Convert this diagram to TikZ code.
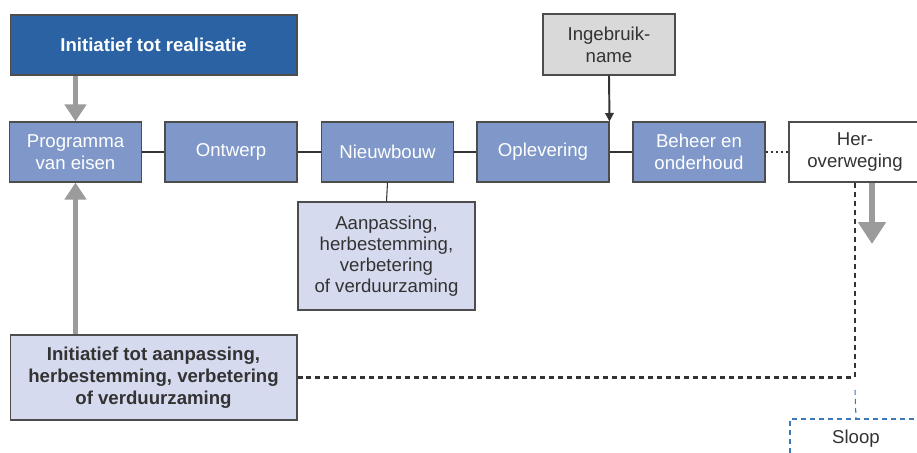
\documentclass[tikz,border=0pt]{standalone}
\usepackage{fontspec}
\setmainfont{Liberation Sans}
\usetikzlibrary{arrows.meta}
\definecolor{darkblue}{HTML}{2A62A3}
\definecolor{midblue}{HTML}{7F98C9}
\definecolor{paleblue}{HTML}{D6DAEE}
\definecolor{palegray}{HTML}{D9D9D9}
\definecolor{edgegray}{HTML}{4D4D4D}
\definecolor{textgray}{HTML}{333333}
\definecolor{arrowgray}{HTML}{9B9B9B}
\definecolor{sloopblue}{HTML}{3C78B8}
\begin{document}
\begin{tikzpicture}[x=0.02cm,y=-0.02cm,>=stealth,
	every node/.style={font=\fontsize{10.6}{12.4}\selectfont,align=center,inner sep=0pt},
	phase/.style={draw=edgegray,line width=0.6pt,fill=midblue,text=white,minimum width=2.64cm,minimum height=1.2cm},
	initbox/.style={draw=edgegray,line width=0.6pt,minimum width=5.74cm,font=\fontsize{10.6}{12.4}\selectfont\bfseries},
	sidebox/.style={draw=edgegray,line width=0.6pt,text=textgray},
	link/.style={textgray,line width=1.1pt},
	bigarrow/.style={arrowgray,line width=0.12cm,-{Triangle[width=0.42cm,length=0.34cm]}},
	blackdash/.style={textgray,line width=1.4pt,dash pattern=on 0.1cm off 0.08cm},
	]
	\fill[white] (0,0) rectangle (917,453);
	\useasboundingbox (0,0) rectangle (917,453);

	\node[initbox,fill=darkblue,text=white,minimum height=1.2cm] (real) at (153.5,45) {Initiatief tot realisatie};
	\node[sidebox,fill=palegray,minimum width=2.64cm,minimum height=1.22cm] (ingeb) at (609,44.5) {Ingebruik-\\name};

	\node[phase] (pve) at (75.5,152) {Programma\\van eisen};
	\node[phase] (ontw) at (231,152) {Ontwerp};
	\node[phase] (nieuw) at (387.5,152) {Nieuwbouw};
	\node[phase] (oplev) at (543,152) {Oplevering};
	\node[phase] (beheer) at (699,152) {Beheer en\\onderhoud};
	\node[sidebox,fill=white,minimum width=2.64cm,minimum height=1.2cm] (herov) at (855,152) {Her-\\overweging};

	\node[sidebox,fill=paleblue,minimum width=3.54cm,minimum height=2.16cm,font=\fontsize{10.6}{12}\selectfont] (aanp) at (386.5,256) {Aanpassing,\\herbestemming,\\verbetering\\of verduurzaming};
	\node[initbox,fill=paleblue,text=textgray,minimum height=1.7cm] (iaanp) at (153.5,377.5) {Initiatief tot aanpassing,\\herbestemming, verbetering\\of verduurzaming};
	\node[draw=sloopblue,line width=0.6pt,dash pattern=on 0.1cm off 0.08cm,text=textgray,minimum width=2.64cm,minimum height=0.8cm] (sloop) at (856,439) {Sloop};

	\coordinate (brk) at (855,390);
	\coordinate (herend) at (872,244);

	\draw[link] (pve) -- (ontw);
	\draw[link] (ontw) -- (nieuw);
	\draw[link] (nieuw) -- (oplev);
	\draw[link] (oplev) -- (beheer);
	\draw[link,line width=0.6pt] (nieuw.south) -- (aanp.north);
	\draw[link,line width=1.4pt,dash pattern=on 0.05cm off 0.05cm] (beheer) -- (herov);
	\draw[link,-{Triangle[width=0.17cm,length=0.17cm]}] (ingeb.south) -- (oplev.north east);
	\draw[bigarrow] (pve.north |- real.south) -- (pve.north);
	\draw[bigarrow] (pve.south |- iaanp.north) -- (pve.south);
	\draw[bigarrow,line width=0.12cm,-{Triangle[width=0.54cm,length=0.44cm]}] (herov.south -| herend) -- (herend);
	\draw[blackdash] (iaanp.east) -| (herov.south);
	\draw[sloopblue,line width=0.6pt,dash pattern=on 0.1cm off 0.08cm] (brk) -- (sloop.north);
\end{tikzpicture}
\end{document}
